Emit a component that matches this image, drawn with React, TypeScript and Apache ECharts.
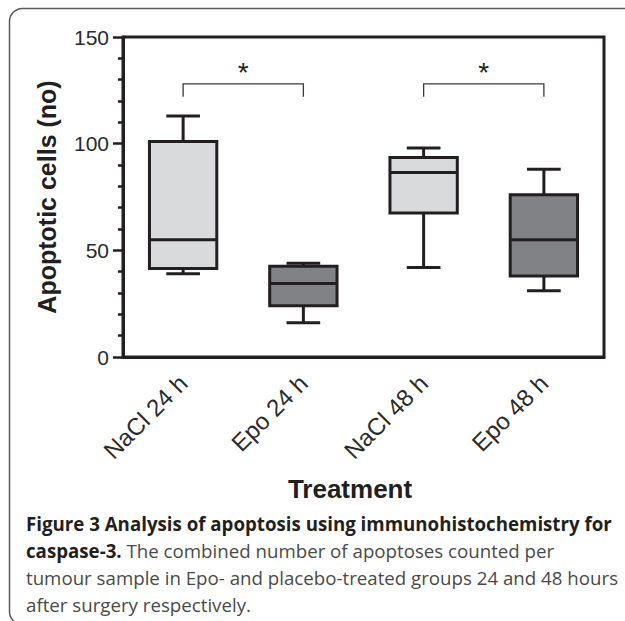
import React, { useEffect, useRef } from 'react';
import * as echarts from 'echarts';

// ---- data ----
const categories = ['NaCl 24 h', 'Epo 24 h', 'NaCl 48 h', 'Epo 48 h'];
const minValues = [39, 16, 42, 31];
const q1Values = [41.5, 24, 67.5, 38];
const medianValues = [55, 34.5, 86.5, 55];
const q3Values = [101, 42.5, 93.5, 76];
const maxValues = [113, 44, 98, 88];
const groupType = ['NaCl', 'Epo', 'NaCl', 'Epo'];

const bracketStart = [0, 2];
const bracketEnd = [1, 3];
const bracketTopValue = [128, 128];
const bracketFootValue = [122, 122];
const bracketLabels = ['*', '*'];

const yMin = 0;
const yMax = 150;
const yInterval = 50;

const yAxisTitle = 'Apoptotic cells (no)';
const xAxisTitle = 'Treatment';
const captionLines = [
  '{b|Figure 3 Analysis of apoptosis using immunohistochemistry for}',
  '{b|caspase-3.} The combined number of apoptoses counted per',
  'tumour sample in Epo- and placebo-treated groups 24 and 48 hours',
  'after surgery respectively.',
];

const INK = '#231f20';
const LIGHT = '#d9dadc';
const DARK = '#808285';
const ARIAL = '"Liberation Sans", Arial, Helvetica, sans-serif';
const CAPFONT = '"Open Sans", "Noto Sans", sans-serif';
const CAPSIZE = 18.7;

export default function App() {
  const ref = useRef<HTMLDivElement>(null);

  useEffect(() => {
    if (!ref.current) return;
    const chart = echarts.init(ref.current, null, { renderer: 'svg' });

    const boxData = categories.map((_, i) => [
      i, minValues[i], q1Values[i], medianValues[i], q3Values[i], maxValues[i],
    ]);
    const bracketData = bracketStart.map((s, i) => [
      s, bracketEnd[i], bracketTopValue[i], bracketFootValue[i], i,
    ]);

    const option: any = {
      animation: false,
      backgroundColor: '#ffffff',
      grid: {
        left: 123,
        right: 21,
        top: 37,
        bottom: 264,
        show: true,
        borderColor: INK,
        borderWidth: 3,
        backgroundColor: 'transparent',
      },
      xAxis: {
        type: 'category',
        data: categories,
        boundaryGap: true,
        axisLine: { lineStyle: { color: INK, width: 3 } },
        axisTick: { alignWithLabel: true, length: 8, lineStyle: { color: INK, width: 3 } },
        axisLabel: {
          rotate: 45,
          margin: 22,
          fontSize: 24,
          fontFamily: ARIAL,
          color: '#2b2b2b',
        },
        splitLine: { show: false },
      },
      yAxis: {
        type: 'value',
        min: yMin,
        max: yMax,
        interval: yInterval,
        axisLine: { show: true, lineStyle: { color: INK, width: 3 } },
        axisTick: { show: true, length: 10, lineStyle: { color: INK, width: 2.5 } },
        minorTick: { show: true, splitNumber: 5, length: 5, lineStyle: { color: INK, width: 2.5 } },
        axisLabel: { margin: 14, fontSize: 21, fontFamily: ARIAL, color: '#2b2b2b' },
        splitLine: { show: false },
        minorSplitLine: { show: false },
      },
      series: [
        {
          type: 'custom',
          name: 'boxes',
          data: boxData,
          encode: { x: 0, y: [1, 2, 3, 4, 5] },
          renderItem: (params: any, api: any) => {
            const i = api.value(0);
            const pMin = api.coord([i, api.value(1)]);
            const pQ1 = api.coord([i, api.value(2)]);
            const pMed = api.coord([i, api.value(3)]);
            const pQ3 = api.coord([i, api.value(4)]);
            const pMax = api.coord([i, api.value(5)]);
            const band = api.size([1, 0])[0];
            const bw = band * 0.56;
            const cw = band * 0.28;
            const cx = pMed[0];
            const fill = groupType[i] === 'NaCl' ? LIGHT : DARK;
            const ls = { stroke: INK, lineWidth: 3 };
            return {
              type: 'group',
              children: [
                { type: 'line', shape: { x1: cx, y1: pMax[1], x2: cx, y2: pQ3[1] }, style: ls },
                { type: 'line', shape: { x1: cx, y1: pQ1[1], x2: cx, y2: pMin[1] }, style: ls },
                { type: 'line', shape: { x1: cx - cw / 2, y1: pMax[1], x2: cx + cw / 2, y2: pMax[1] }, style: ls },
                { type: 'line', shape: { x1: cx - cw / 2, y1: pMin[1], x2: cx + cw / 2, y2: pMin[1] }, style: ls },
                {
                  type: 'rect',
                  shape: { x: cx - bw / 2, y: pQ3[1], width: bw, height: pQ1[1] - pQ3[1] },
                  style: { fill, stroke: INK, lineWidth: 3 },
                },
                { type: 'line', shape: { x1: cx - bw / 2, y1: pMed[1], x2: cx + bw / 2, y2: pMed[1] }, style: ls },
              ],
            };
          },
          z: 3,
        },
        {
          type: 'custom',
          name: 'brackets',
          data: bracketData,
          encode: { x: [0, 1], y: [2, 3] },
          renderItem: (params: any, api: any) => {
            const a = api.coord([api.value(0), api.value(2)]);
            const b = api.coord([api.value(1), api.value(2)]);
            const footY = api.coord([api.value(0), api.value(3)])[1];
            const idx = api.value(4);
            return {
              type: 'group',
              children: [
                {
                  type: 'polyline',
                  shape: { points: [[a[0], footY], [a[0], a[1]], [b[0], a[1]], [b[0], footY]] },
                  style: { stroke: '#3a3a3a', lineWidth: 1.3, fill: 'none' },
                },
                {
                  type: 'text',
                  x: (a[0] + b[0]) / 2,
                  y: a[1] + 3,
                  style: {
                    text: bracketLabels[idx],
                    fontSize: 28,
                    fontFamily: ARIAL,
                    fill: INK,
                    align: 'center',
                    verticalAlign: 'bottom',
                    textAlign: 'center',
                    textVerticalAlign: 'bottom',
                  },
                },
              ],
            };
          },
          z: 4,
        },
      ],
      graphic: [
        {
          type: 'rect',
          shape: { x: 9.5, y: 8.5, width: 700, height: 616, r: 13 },
          style: { fill: 'none', stroke: '#5a5a5a', lineWidth: 1.5 },
          silent: true,
        },
        {
          type: 'text',
          x: 47,
          y: 197,
          rotation: Math.PI / 2,
          style: {
            text: yAxisTitle,
            fontSize: 25,
            fontWeight: 'bold',
            fontFamily: ARIAL,
            fill: INK,
            align: 'center',
            verticalAlign: 'middle',
            textAlign: 'center',
            textVerticalAlign: 'middle',
          },
        },
        {
          type: 'text',
          x: 350,
          y: 489,
          style: {
            text: xAxisTitle,
            fontSize: 26,
            fontWeight: 'bold',
            fontFamily: ARIAL,
            fill: INK,
            align: 'center',
            verticalAlign: 'middle',
            textAlign: 'center',
            textVerticalAlign: 'middle',
          },
        },
        ...captionLines.map((line, i) => ({
          type: 'text',
          x: 26,
          y: 523 + i * 27,
          style: {
            text: line,
            fontSize: CAPSIZE,
            fontFamily: CAPFONT,
            fill: '#4a4a4a',
            align: 'left',
            verticalAlign: 'middle',
            textAlign: 'left',
            textVerticalAlign: 'middle',
            rich: {
              b: { fontSize: CAPSIZE, fontFamily: CAPFONT, fontWeight: 'bold', fill: INK, color: INK },
            },
          },
        })),
      ],
    };

    chart.setOption(option);
    return () => chart.dispose();
  }, []);

  return (
    <div
      ref={ref}
      style={{ position: 'absolute', left: 0, top: 0, width: 625, height: 621, background: '#fff' }}
    />
  );
}
